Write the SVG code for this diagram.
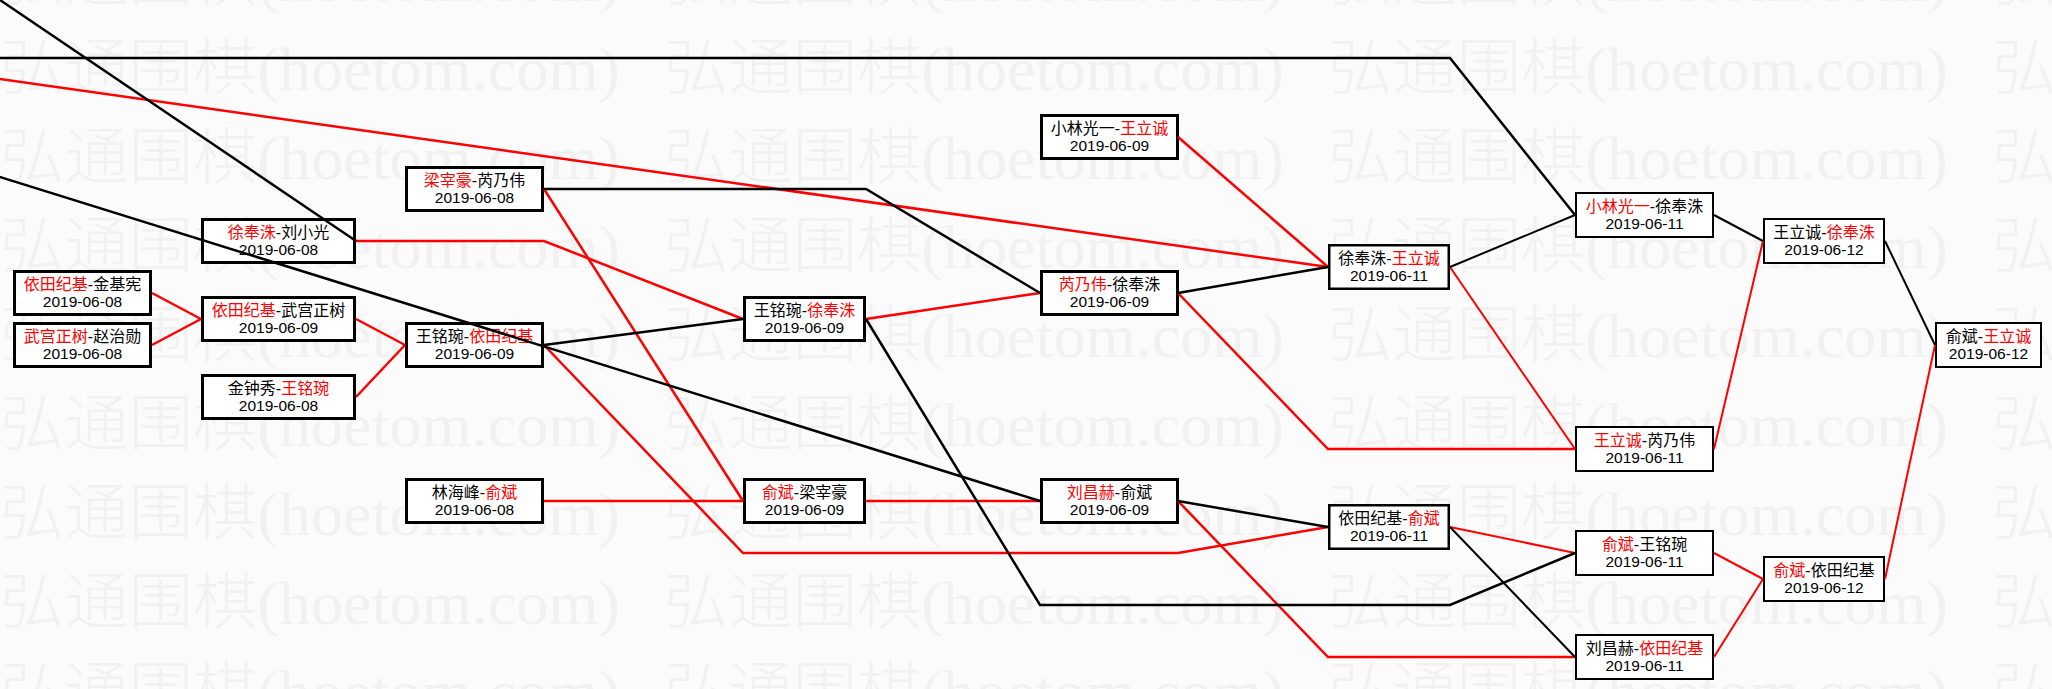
<svg xmlns="http://www.w3.org/2000/svg" width="2052" height="689" viewBox="0 0 2052 689">
<style>
.bx{fill:#fff;stroke:#000;stroke-width:3}
.bx2{fill:#fff;stroke:#000;stroke-width:2}
.nm{font-family:"Liberation Sans","Noto Sans CJK SC",sans-serif;font-size:16px;fill:#000;text-anchor:middle}
.dt{font-family:"Liberation Sans","Noto Sans CJK SC",sans-serif;font-size:15.5px;fill:#000;text-anchor:middle}
.r{fill:#f00}
.lr{fill:none;stroke:#f00;stroke-width:2.5;stroke-linejoin:miter}
.lb{fill:none;stroke:#000;stroke-width:2.5;stroke-linejoin:miter}
.tr{fill:none;stroke:#f00;stroke-width:2}
.tb{fill:none;stroke:#000;stroke-width:2}
.wm{font-family:"Liberation Serif","Noto Sans CJK SC",serif;font-weight:300;font-size:62px;fill:#f1f1f1}
</style>
<defs>
<pattern id="wmp" patternUnits="userSpaceOnUse" x="0" y="38" width="664" height="89">
<text class="wm" x="0" y="52" textLength="620" lengthAdjust="spacingAndGlyphs">弘通围棋(hoetom.com)</text>
</pattern>
</defs>
<rect width="2052" height="689" fill="#fbfbfb"/>
<rect width="2052" height="689" fill="url(#wmp)"/>

<g id="A1"><rect class="bx" x="14.5" y="271.5" width="136" height="43"/><text class="nm" x="82.5" y="289.5"><tspan class="r">依田纪基</tspan>-金基宪</text><text class="dt" x="82.5" y="306.5">2019-06-08</text></g>
<g id="A2"><rect class="bx" x="14.5" y="323.5" width="136" height="43"/><text class="nm" x="82.5" y="341.5"><tspan class="r">武宫正树</tspan>-赵治勋</text><text class="dt" x="82.5" y="358.5">2019-06-08</text></g>

<g id="B1"><rect class="bx" x="202.5" y="219.5" width="152" height="43"/><text class="nm" x="278.5" y="237.5"><tspan class="r">徐奉洙</tspan>-刘小光</text><text class="dt" x="278.5" y="254.5">2019-06-08</text></g>
<g id="B2"><rect class="bx" x="202.5" y="297.5" width="152" height="43"/><text class="nm" x="278.5" y="315.5"><tspan class="r">依田纪基</tspan>-武宫正树</text><text class="dt" x="278.5" y="332.5">2019-06-09</text></g>
<g id="B3"><rect class="bx" x="202.5" y="375.5" width="152" height="43"/><text class="nm" x="278.5" y="393.5">金钟秀-<tspan class="r">王铭琬</tspan></text><text class="dt" x="278.5" y="410.5">2019-06-08</text></g>

<g id="C1"><rect class="bx" x="406.5" y="167.5" width="136" height="43"/><text class="nm" x="474.5" y="185.5"><tspan class="r">梁宰豪</tspan>-芮乃伟</text><text class="dt" x="474.5" y="202.5">2019-06-08</text></g>
<g id="C2"><rect class="bx" x="406.5" y="323.5" width="136" height="43"/><text class="nm" x="474.5" y="341.5">王铭琬-<tspan class="r">依田纪基</tspan></text><text class="dt" x="474.5" y="358.5">2019-06-09</text></g>
<g id="C3"><rect class="bx" x="406.5" y="479.5" width="136" height="43"/><text class="nm" x="474.5" y="497.5">林海峰-<tspan class="r">俞斌</tspan></text><text class="dt" x="474.5" y="514.5">2019-06-08</text></g>

<g id="D1"><rect class="bx" x="744.5" y="297.5" width="120" height="43"/><text class="nm" x="804.5" y="315.5">王铭琬-<tspan class="r">徐奉洙</tspan></text><text class="dt" x="804.5" y="332.5">2019-06-09</text></g>
<g id="D2"><rect class="bx" x="744.5" y="479.5" width="120" height="43"/><text class="nm" x="804.5" y="497.5"><tspan class="r">俞斌</tspan>-梁宰豪</text><text class="dt" x="804.5" y="514.5">2019-06-09</text></g>

<g id="E1"><rect class="bx" x="1041.5" y="115.5" width="136" height="43"/><text class="nm" x="1109.5" y="133.5">小林光一-<tspan class="r">王立诚</tspan></text><text class="dt" x="1109.5" y="150.5">2019-06-09</text></g>
<g id="E2"><rect class="bx" x="1041.5" y="271.5" width="136" height="43"/><text class="nm" x="1109.5" y="289.5"><tspan class="r">芮乃伟</tspan>-徐奉洙</text><text class="dt" x="1109.5" y="306.5">2019-06-09</text></g>
<g id="E3"><rect class="bx" x="1041.5" y="479.5" width="136" height="43"/><text class="nm" x="1109.5" y="497.5"><tspan class="r">刘昌赫</tspan>-俞斌</text><text class="dt" x="1109.5" y="514.5">2019-06-09</text></g>

<g id="F1"><rect class="bx" style="stroke-width:2.5" x="1329.25" y="245.25" width="119.5" height="43.5"/><text class="nm" x="1389" y="263.5">徐奉洙-<tspan class="r">王立诚</tspan></text><text class="dt" x="1389" y="280.5">2019-06-11</text></g>
<g id="F2"><rect class="bx" style="stroke-width:2.5" x="1329.25" y="505.25" width="119.5" height="43.5"/><text class="nm" x="1389" y="523.5">依田纪基-<tspan class="r">俞斌</tspan></text><text class="dt" x="1389" y="540.5">2019-06-11</text></g>

<g id="G1"><rect class="bx2" x="1576" y="193" width="137" height="44"/><text class="nm" x="1644.5" y="211.5"><tspan class="r">小林光一</tspan>-徐奉洙</text><text class="dt" x="1644.5" y="228.5">2019-06-11</text></g>
<g id="G2"><rect class="bx2" x="1576" y="427" width="137" height="44"/><text class="nm" x="1644.5" y="445.5"><tspan class="r">王立诚</tspan>-芮乃伟</text><text class="dt" x="1644.5" y="462.5">2019-06-11</text></g>
<g id="G3"><rect class="bx2" x="1576" y="531" width="137" height="44"/><text class="nm" x="1644.5" y="549.5"><tspan class="r">俞斌</tspan>-王铭琬</text><text class="dt" x="1644.5" y="566.5">2019-06-11</text></g>
<g id="G4"><rect class="bx2" x="1576" y="635" width="137" height="44"/><text class="nm" x="1644.5" y="653.5">刘昌赫-<tspan class="r">依田纪基</tspan></text><text class="dt" x="1644.5" y="670.5">2019-06-11</text></g>

<g id="H1"><rect class="bx2" x="1764" y="219" width="120" height="44"/><text class="nm" x="1824" y="237.5">王立诚-<tspan class="r">徐奉洙</tspan></text><text class="dt" x="1824" y="254.5">2019-06-12</text></g>
<g id="H2"><rect class="bx2" x="1764" y="557" width="120" height="44"/><text class="nm" x="1824" y="575.5"><tspan class="r">俞斌</tspan>-依田纪基</text><text class="dt" x="1824" y="592.5">2019-06-12</text></g>

<g id="I1"><rect class="bx2" x="1936" y="323" width="105" height="44"/><text class="nm" x="1988.5" y="341.5">俞斌-<tspan class="r">王立诚</tspan></text><text class="dt" x="1988.5" y="358.5">2019-06-12</text></g>

<g id="connectors">
<polyline class="lr" points="152,293 201,319"/>
<polyline class="lr" points="152,345 201,319"/>
<polyline class="lr" points="356,319 405,345"/>
<polyline class="lr" points="356,397 405,345"/>
<polyline class="lr" points="356,241 544,241 743,319"/>
<polyline class="lr" points="544,189 743,501"/>
<polyline class="lr" points="544,345 743,553 1178,553 1328,527"/>
<polyline class="lr" points="544,501 743,501"/>
<polyline class="lr" points="866,319 1040,293"/>
<polyline class="lr" points="866,501 1040,501"/>
<polyline class="lr" points="-10,77.6 1328,267"/>
<polyline class="lr" points="1178,137 1328,267"/>
<polyline class="lr" points="1178,293 1328,449 1575,449"/>
<polyline class="lr" points="1178,501 1328,657 1575,657"/>
<polyline class="tr" points="1450,267 1575,449"/>
<polyline class="tr" points="1450,527 1575,553"/>
<polyline class="tr" points="1714,449 1763,241"/>
<polyline class="tr" points="1714,553 1763,579"/>
<polyline class="tr" points="1714,657 1763,579"/>
<polyline class="tr" points="1885,579 1935,345"/>
<polyline class="lb" points="-20,-13.5 356,241"/>
<polyline class="lb" points="-20,170.8 1040,501"/>
<polyline class="lb" points="-10,58 1450,58 1575,215"/>
<polyline class="lb" points="544,189 866,189 1040,293"/>
<polyline class="lb" points="544,345 743,319"/>
<polyline class="lb" points="866,319 1040,605 1450,605 1575,553"/>
<polyline class="lb" points="1178,293 1328,267"/>
<polyline class="lb" points="1178,501 1328,527"/>
<polyline class="tb" points="1450,267 1575,215"/>
<polyline class="tb" points="1450,527 1575,657"/>
<polyline class="tb" points="1714,215 1763,241"/>
<polyline class="tb" points="1885,241 1935,345"/>
</g>
</svg>
